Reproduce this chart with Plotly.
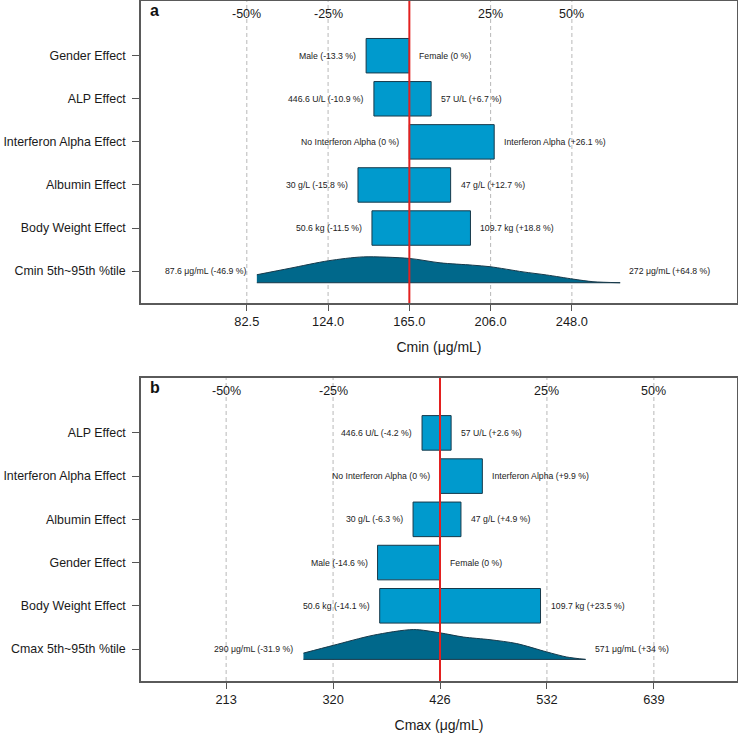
import plotly.graph_objects as go

FONT = "Liberation Sans, Arial, sans-serif"

# ---------------- data: panel a (Cmin) ----------------
ref_a = 165.0
effects_a = ["Gender Effect", "ALP Effect", "Interferon Alpha Effect", "Albumin Effect", "Body Weight Effect"]
low_pct_a = [-13.3, -10.9, 0.0, -15.8, -11.5]
high_pct_a = [0.0, 6.7, 26.1, 12.7, 18.8]
low_text_a = ["Male (-13.3 %)", "446.6 U/L (-10.9 %)", "No Interferon Alpha (0 %)", "30 g/L (-15.8 %)", "50.6 kg (-11.5 %)"]
high_text_a = ["Female (0 %)", "57 U/L (+6.7 %)", "Interferon Alpha (+26.1 %)", "47 g/L (+12.7 %)", "109.7 kg (+18.8 %)"]
dist_name_a = "Cmin 5th~95th %tile"
dist_conc_a = [87.6, 104.4, 123.9, 141.6, 165.0, 180.6, 197.0, 206.0, 222.7, 234.7, 248.2, 258.2, 272.0]
dist_dens_a = [0.31, 0.56, 0.85, 1.00, 0.94, 0.77, 0.68, 0.62, 0.42, 0.30, 0.14, 0.04, 0.0]
dist_text_a = ["87.6 μg/mL (-46.9 %)", "272 μg/mL (+64.8 %)"]
ticks_a = [82.5, 123.75, 165.0, 206.25, 247.5]
ticktext_a = ["82.5", "124.0", "165.0", "206.0", "248.0"]
title_a = "Cmin (μg/mL)"

# ---------------- data: panel b (Cmax) ----------------
ref_b = 426.0
effects_b = ["ALP Effect", "Interferon Alpha Effect", "Albumin Effect", "Gender Effect", "Body Weight Effect"]
low_pct_b = [-4.2, 0.0, -6.3, -14.6, -14.1]
high_pct_b = [2.6, 9.9, 4.9, 0.0, 23.5]
low_text_b = ["446.6 U/L (-4.2 %)", "No Interferon Alpha (0 %)", "30 g/L (-6.3 %)", "Male (-14.6 %)", "50.6 kg (-14.1 %)"]
high_text_b = ["57 U/L (+2.6 %)", "Interferon Alpha (+9.9 %)", "47 g/L (+4.9 %)", "Female (0 %)", "109.7 kg (+23.5 %)"]
dist_name_b = "Cmax 5th~95th %tile"
dist_conc_b = [290.0, 319.7, 359.6, 399.4, 426.0, 449.2, 475.8, 502.4, 532.3, 552.2, 571.0]
dist_dens_b = [0.21, 0.47, 0.81, 1.00, 0.89, 0.75, 0.66, 0.53, 0.25, 0.08, 0.0]
dist_text_b = ["290 μg/mL (-31.9 %)", "571 μg/mL (+34 %)"]
ticks_b = [213.0, 319.5, 426.0, 532.5, 639.0]
ticktext_b = ["213", "320", "426", "532", "639"]
title_b = "Cmax (μg/mL)"

pct_lines = [-50, -25, 25, 50]
pct_labels = ["-50%", "-25%", "25%", "50%"]

BAR_COLOR = "#009ACD"
DENS_COLOR = "#00688B"
EDGE = "#17394a"

fig = go.Figure()
annotations = []
shapes = []


def add_panel(sfx, ref, effects, lowp, highp, lowt, hight, dname, dconc, ddens, dtext,
              base_off, peak_h, letter):
    xa = "x" + sfx
    ya = "y" + sfx
    n = len(effects)
    rows = [n + 1 - i for i in range(n)]  # top row highest
    lows = [ref * (1 + p / 100.0) for p in lowp]
    highs = [ref * (1 + p / 100.0) for p in highp]
    fig.add_trace(go.Bar(
        orientation="h", y=rows, base=lows, x=[h - l for h, l in zip(highs, lows)],
        width=0.8, marker=dict(color=BAR_COLOR, line=dict(color=EDGE, width=1)),
        xaxis=xa, yaxis=ya, showlegend=False, hoverinfo="skip"))
    base = 1 - base_off
    fig.add_trace(go.Scatter(
        x=[dconc[0], dconc[-1]], y=[base, base], mode="lines",
        line=dict(color=EDGE, width=1), xaxis=xa, yaxis=ya, showlegend=False, hoverinfo="skip"))
    fig.add_trace(go.Scatter(
        x=dconc, y=[base + peak_h * d for d in ddens], mode="lines",
        line=dict(color=EDGE, width=1, shape="spline", smoothing=0.8),
        fill="tonexty", fillcolor=DENS_COLOR,
        xaxis=xa, yaxis=ya, showlegend=False, hoverinfo="skip"))
    for p in pct_lines:
        shapes.append(dict(type="line", xref=xa, yref=ya + " domain", x0=ref * (1 + p / 100), x1=ref * (1 + p / 100),
                           y0=0, y1=1, layer="below", line=dict(color="#b8b8b8", width=1, dash="4px,3px")))
    shapes.append(dict(type="line", xref=xa, yref=ya + " domain", x0=ref, x1=ref, y0=0, y1=1,
                       layer="above", line=dict(color="#e3201f", width=2)))
    for p, t in zip(pct_lines, pct_labels):
        annotations.append(dict(xref=xa, yref=ya + " domain", x=ref * (1 + p / 100), y=1, yshift=-13,
                                text=t, showarrow=False, yanchor="middle", xanchor="center",
                                font=dict(family=FONT, size=12.5, color="#1a1a1a")))
    annotations.append(dict(xref=xa + " domain", yref=ya + " domain", x=0, y=1, xshift=7, yshift=1,
                            text="<b>" + letter + "</b>", showarrow=False, xanchor="left", yanchor="top",
                            font=dict(family=FONT, size=16, color="#111")))
    small = dict(family=FONT, size=8.7, color="#222")
    for r, l, h, lt, ht in zip(rows, lows, highs, lowt, hight):
        annotations.append(dict(xref=xa, yref=ya, x=l, y=r, xshift=-8, text=lt, showarrow=False,
                                xanchor="right", yanchor="middle", font=small))
        annotations.append(dict(xref=xa, yref=ya, x=h, y=r, xshift=8, text=ht, showarrow=False,
                                xanchor="left", yanchor="middle", font=small))
    annotations.append(dict(xref=xa, yref=ya, x=dconc[0], y=1, xshift=-8, text=dtext[0], showarrow=False,
                            xanchor="right", yanchor="middle", font=small))
    annotations.append(dict(xref=xa, yref=ya, x=dconc[-1], y=1, xshift=7, text=dtext[1], showarrow=False,
                            xanchor="left", yanchor="middle", font=small))
    return [1] + rows[::-1], [dname] + effects[::-1]


tv_a, tt_a = add_panel("", ref_a, effects_a, low_pct_a, high_pct_a, low_text_a, high_text_a,
                       dist_name_a, dist_conc_a, dist_dens_a, dist_text_a, 0.27, 0.60, "a")
tv_b, tt_b = add_panel("2", ref_b, effects_b, low_pct_b, high_pct_b, low_text_b, high_text_b,
                       dist_name_b, dist_conc_b, dist_dens_b, dist_text_b, 0.24, 0.69, "b")

axis_common = dict(showgrid=False, zeroline=False, showline=True, mirror=True, linecolor="#5a5a5a",
                   linewidth=1.5, ticks="outside", tickcolor="#555", tickwidth=1, automargin=False)
xtf = dict(family=FONT, size=12.8, color="#1a1a1a")
ytf = dict(family=FONT, size=12.4, color="#1a1a1a")

fig.update_layout(
    template="none",
    width=738, height=733,
    margin=dict(l=141, r=1, t=1, b=52, autoexpand=False),
    plot_bgcolor="white", paper_bgcolor="white",
    barmode="overlay",
    xaxis=dict(axis_common, domain=[0, 1], anchor="y", range=[28.8, 331.3], tickvals=ticks_a,
               ticktext=ticktext_a, ticklen=6, tickfont=xtf,
               title=dict(text=title_a, standoff=14, font=dict(family=FONT, size=14, color="#1a1a1a"))),
    yaxis=dict(axis_common, domain=[0.5559, 1], anchor="x", range=[0.26, 7.27], tickvals=tv_a,
               ticktext=tt_a, ticklen=7, ticklabelstandoff=4, tickfont=ytf),
    xaxis2=dict(axis_common, domain=[0, 1], anchor="y2", range=[128.2, 721.8], tickvals=ticks_b,
                ticktext=ticktext_b, ticklen=6, tickfont=xtf,
                title=dict(text=title_b, standoff=14, font=dict(family=FONT, size=14, color="#1a1a1a"))),
    yaxis2=dict(axis_common, domain=[0, 0.4456], anchor="x2", range=[0.26, 7.27], tickvals=tv_b,
                ticktext=tt_b, ticklen=7, ticklabelstandoff=4, tickfont=ytf),
    shapes=shapes,
    annotations=annotations,
)

fig.write_html("out.html", config={"displayModeBar": False},
               post_script="document.body.style.margin='0';document.body.style.overflow='hidden';")
